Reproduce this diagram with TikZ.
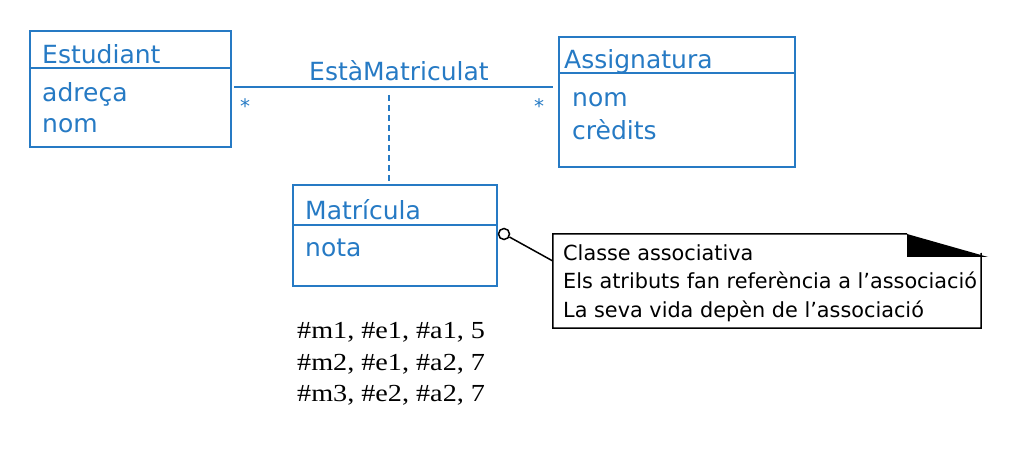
\documentclass[tikz,border=0pt]{standalone}
\usepackage{fontspec}
\setmainfont{DejaVu Sans}
\newfontfamily\timesfont[FakeStretch=1.15]{Liberation Serif}
\usetikzlibrary{calc}
\definecolor{umlblue}{RGB}{38,122,196}

\begin{document}
\begin{tikzpicture}[x=1pt,y=-1pt,
  classbox/.style={draw=umlblue,line width=2pt,inner sep=0pt},
  umlline/.style={draw=umlblue,line width=2pt},
  noteline/.style={draw=black,line width=1.5pt},
  umltext/.style={anchor=base west,inner sep=0pt,text=umlblue,font=\fontsize{25}{28}\selectfont},
  notetext/.style={anchor=base west,inner sep=0pt,font=\fontsize{20.8}{28}\selectfont},
  rowtext/.style={anchor=base west,inner sep=0pt,font=\timesfont\fontsize{24.5}{31}\selectfont}]
\useasboundingbox (0,0) rectangle (1030,462);

% classes
\node[classbox,minimum width=201,minimum height=116] (estudiant) at (130.5,89) {};
\node[classbox,minimum width=236,minimum height=130] (assignatura) at (677,102) {};
\node[classbox,minimum width=204,minimum height=101] (matricula) at (395,235.5) {};
\draw[umlline] (estudiant.west |- 0,68) -- (estudiant.east |- 0,68);
\draw[umlline] (assignatura.west |- 0,73) -- (assignatura.east |- 0,73);
\draw[umlline] (matricula.west |- 0,225) -- (matricula.east |- 0,225);

\node[umltext] (estname) at (42,64) {Estudiant};
\node[umltext] (estadr) at (42,102) {adreça};
\node[umltext] (estnom) at (42,133) {nom};
\node[umltext] (assname) at (564,69) {Assignatura};
\node[umltext] (assnom) at (572,107) {nom};
\node[umltext] (asscred) at (572,140) {crèdits};
\node[umltext] (matname) at (305,220) {Matrícula};
\node[umltext] (matnota) at (305,257) {nota};

% association
\coordinate (assoc) at (389,87);
\draw[umlline] ([xshift=2pt]estudiant.east |- assoc) -- ([xshift=-5pt]assignatura.west |- assoc);
\node[umltext] (assocname) at (309,81) {EstàMatriculat};
\node[umltext,font=\fontsize{20}{22}\selectfont] (multest) at (240,114) {*};
\node[umltext,font=\fontsize{20}{22}\selectfont] (multass) at (534,114) {*};
\coordinate (link) at (389,95);
\draw[umlline,line width=1.5pt,dash pattern=on 6pt off 4pt] (link) -- (link |- matricula.north);

% note
\node[minimum width=428,minimum height=94,inner sep=0pt] (note) at (767,281) {};
\coordinate (fold) at (907,234);
\draw[noteline] (fold) -- (note.north west) -- (note.south west) -- (note.south east) -- (981,253);
\fill (fold) -- (907,257) -- (988,257) -- cycle;
\node[circle,draw,line width=1.5pt,inner sep=0pt,minimum size=11] (pin) at (504,234) {};
\draw[noteline] (pin) -- (note.west |- 0,261);
\node[notetext] (note1) at (563,261) {Classe associativa};
\node[notetext] (note2) at (563,288) {Els atributs fan referència a l’associació};
\node[notetext] (note3) at (563,317) {La seva vida depèn de l’associació};

% instances
\node[rowtext] (row1) at (297,338) {\#m1, \#e1, \#a1, 5};
\node[rowtext] (row2) at (297,370) {\#m2, \#e1, \#a2, 7};
\node[rowtext] (row3) at (297,401) {\#m3, \#e2, \#a2, 7};

\end{tikzpicture}
\end{document}
